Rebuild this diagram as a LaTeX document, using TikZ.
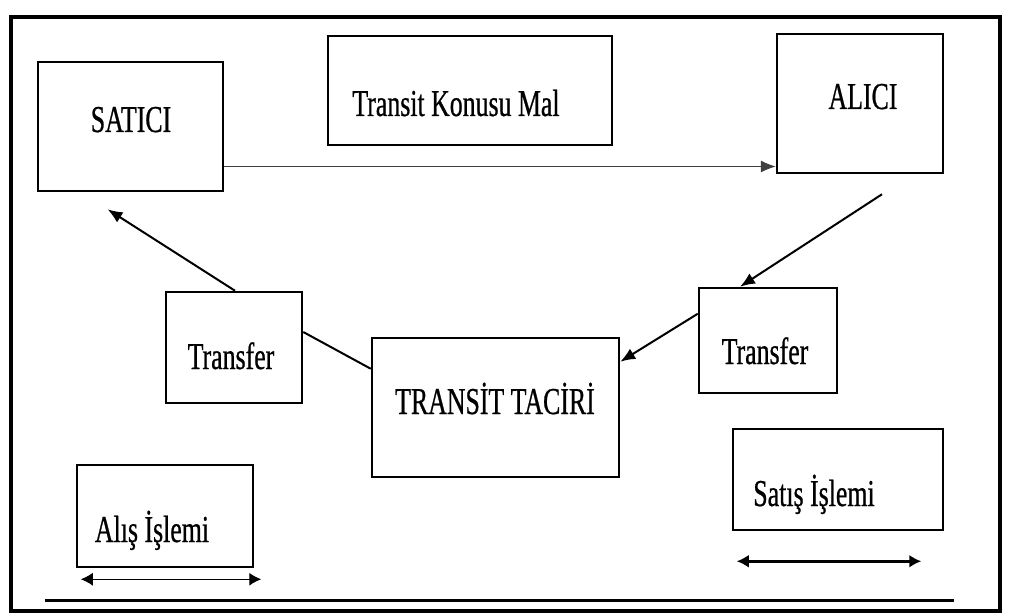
\documentclass[tikz,border=0pt]{standalone}
\usepackage{fontspec}
\setmainfont[FakeStretch=0.68, FakeBold=0.6]{Liberation Serif}
\usetikzlibrary{positioning,calc,arrows.meta}

\tikzstyle{box}  = [rectangle, draw, line width=2.5pt, inner sep=0pt]
\tikzstyle{lbl}  = [font=\fontsize{38}{44}\selectfont, anchor=base, inner sep=0pt]
\tikzstyle{line} = [draw, line width=2pt]
\tikzstyle{arr}  = [line, -{Latex[length=15pt,width=12pt]}]
\tikzstyle{twoway} = [draw, {Latex[length=12pt,width=13pt]}-{Latex[length=12pt,width=13pt]}]

\begin{document}
\begin{tikzpicture}[x=1pt, y=-1pt]
   \useasboundingbox (0,0) rectangle (1010,615);

   % outer frame
   \draw[line width=3.5pt] (11,17) rectangle (1000,611);
   \draw[line width=3pt] (45,600) -- (954,600);

   % top row
   \node at (130.5,126.5) [box, minimum width=185pt, minimum height=129pt] (satici) {};
   \node at (131,132) [lbl] (satici text) {SATICI};
   \node at (470,90.5) [box, minimum width=284pt, minimum height=109pt] (mal) {};
   \node at (456,116) [lbl] (mal text) {Transit Konusu Mal};
   \node at (860,103.5) [box, minimum width=166pt, minimum height=139pt] (alici) {};
   \node at (863,109) [lbl] (alici text) {ALICI};

   % middle row
   \node at (234,347.5) [box, minimum width=136pt, minimum height=111pt] (transfer l) {};
   \node at (231,369) [lbl] (transfer l text) {Transfer};
   \node at (495.5,407.5) [box, minimum width=247pt, minimum height=139pt] (tacir) {};
   \node at (495,414) [lbl] (tacir text) {TRANSİT TACİRİ};
   \node at (768,340.5) [box, minimum width=138pt, minimum height=105pt] (transfer r) {};
   \node at (765,364) [lbl] (transfer r text) {Transfer};

   % bottom row
   \node at (165,516) [box, minimum width=176pt, minimum height=102pt] (alis) {};
   \node at (152,542) [lbl] (alis text) {Alış İşlemi};
   \node at (838,479.5) [box, minimum width=210pt, minimum height=101pt] (satis) {};
   \node at (814,506) [lbl] (satis text) {Satış İşlemi};

   % goods go straight from seller to buyer
   \draw[arr, line width=0.9pt, black!75] ($(satici.east)+(0,40)$) coordinate (mal out) -- (mal out -| alici.west);

   % transfers
   \path[arr] ($(alici.south)+(22,20)$) -- ($(transfer r.north)+(-28,0)$);
   \path[arr] ($(transfer r.north west)+(0,27)$) -- ($(tacir.north east)+(0,25)$);
   \path[line] ($(tacir.north west)+(0,32)$) -- ($(transfer l.east)+(0,-15.5)$);
   \path[arr] ($(transfer l.north)+(1,0)$) -- ($(satici.south)+(-23,17)$);

   % purchase and sale spans
   \draw[twoway, line width=1.2pt] ($(alis.south west)+(5,11)$) coordinate (alis l) -- ($(alis.south east)+(7,11)$);
   \draw[twoway, line width=3pt] ($(satis.south west)+(5,30)$) -- ($(satis.south east)+(-23,30)$);
\end{tikzpicture}
\end{document}
